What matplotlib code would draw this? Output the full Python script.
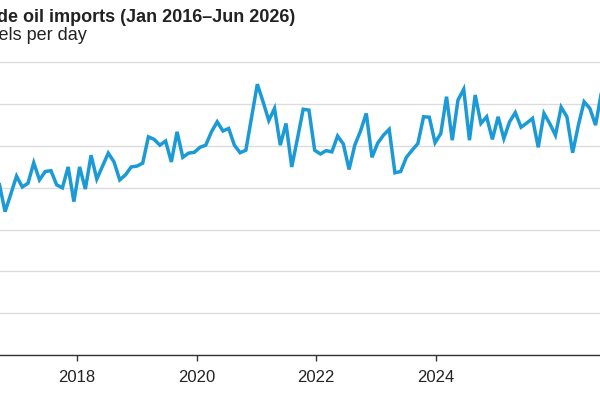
import numpy as np
import pandas as pd
import matplotlib
matplotlib.use("Agg")
import matplotlib.pyplot as plt
import matplotlib.dates as mdates

plt.rcParams['font.family'] = ['Liberation Sans', 'DejaVu Sans']

title = "Crude oil imports (Jan 2016\u2013Jun 2026)"
subtitle = "Million barrels per day"

# series, evenly spaced between the two dates below
start, end = "2016-08-09", "2026-10-08"
imports = [4.19, 4.09, 3.43, 3.85, 4.28, 4.02, 4.11, 4.60, 4.19, 4.39,
           4.41, 4.07, 4.00, 4.50, 3.67, 4.50, 3.97, 4.78, 4.21, 4.52,
           4.83, 4.62, 4.19, 4.31, 4.50, 4.52, 4.59, 5.22, 5.16, 5.02,
           5.12, 4.62, 5.34, 4.73, 4.83, 4.85, 4.97, 5.02, 5.34, 5.58,
           5.36, 5.42, 5.02, 4.84, 4.90, 5.69, 6.48, 6.06, 5.61, 5.90,
           5.02, 5.54, 4.50, 5.18, 5.88, 5.86, 4.90, 4.81, 4.89, 4.86,
           5.24, 5.05, 4.44, 5.02, 5.36, 5.78, 4.73, 5.07, 5.26, 5.40,
           4.36, 4.39, 4.73, 4.90, 5.06, 5.70, 5.69, 5.08, 5.30, 6.18,
           5.14, 6.10, 6.36, 5.14, 6.22, 5.54, 5.70, 5.16, 5.70, 5.18,
           5.58, 5.80, 5.45, 5.55, 5.66, 4.97, 5.78, 5.54, 5.26, 5.93,
           5.70, 4.84, 5.50, 6.06, 5.90, 5.50, 6.27]
dates = pd.date_range(start, end, periods=len(imports))

tick_years = [2018, 2020, 2022, 2024]
y_ticks = np.arange(0, 8)

fig = plt.figure(figsize=(6, 4), dpi=100)
ax = fig.add_axes([0.0, 0.1125, 1.0, 0.7366])

ax.plot(dates, imports, color="#1b9ad6", linewidth=2.5, solid_joinstyle="miter")

ax.set_yticks(y_ticks)
ax.set_ylim(0, 7.05)
ax.set_xticks([pd.Timestamp(f"{y}-01-01") for y in tick_years])
ax.xaxis.set_major_formatter(mdates.DateFormatter("%Y"))
ax.set_xlim(pd.Timestamp("2016-09-17"), pd.Timestamp("2026-09-30"))

ax.grid(axis="y", color="#dcdcdc", linewidth=1.0)
ax.set_axisbelow(True)
for side in ["top", "right", "left"]:
    ax.spines[side].set_visible(False)
ax.spines["bottom"].set_color("#333333")
ax.spines["bottom"].set_linewidth(1.0)
ax.tick_params(axis="y", left=False, labelleft=False)
ax.tick_params(axis="x", length=4, width=1, color="#333333",
               labelsize=12, labelcolor="#222222", pad=7)

fig.text(295 / 600, 1 - 22 / 400, title, ha="right", va="baseline",
         fontsize=13, fontweight="bold", color="#222222")
fig.text(87 / 600, 1 - 40 / 400, subtitle, ha="right", va="baseline",
         fontsize=13, color="#222222")

fig.savefig("out.png", dpi=100)
